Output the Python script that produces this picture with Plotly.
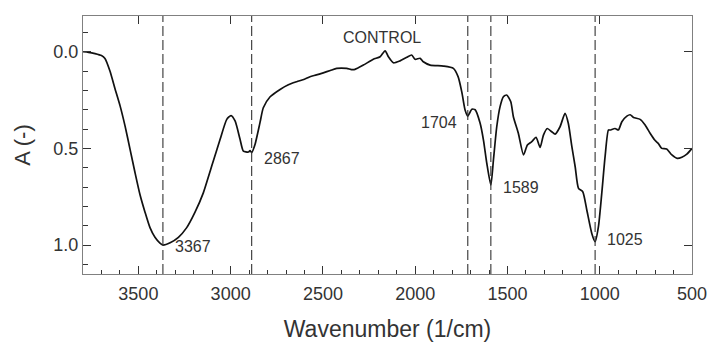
import plotly.graph_objects as go

# Spectrum (wavenumber in 1/cm, absorbance A)
wavenumber = [3800, 3770, 3735, 3700, 3681, 3654, 3627, 3599, 3572, 3545, 3518, 3491, 3464, 3437,
              3410, 3383, 3367, 3328, 3283, 3238, 3193, 3148, 3102, 3057, 3021, 2998, 2976, 2949,
              2931, 2904, 2895, 2886, 2868, 2841, 2823, 2786, 2732, 2690, 2642, 2600, 2570, 2535,
              2498, 2460, 2425, 2371, 2345, 2326, 2281, 2227, 2190, 2163, 2145, 2118, 2082, 2046,
              2019, 2001, 1973, 1956, 1919, 1847, 1793, 1767, 1747, 1730, 1715, 1693, 1675, 1648,
              1630, 1612, 1590, 1576, 1558, 1540, 1522, 1504, 1482, 1468, 1441, 1413, 1392, 1368,
              1345, 1323, 1305, 1284, 1260, 1242, 1215, 1188, 1170, 1151, 1133, 1115, 1092, 1070,
              1043, 1025, 1007, 989, 971, 953, 944, 917, 899, 880, 853, 835, 817, 781, 754, 727,
              702, 683, 664, 637, 609, 580, 555, 528, 500]
absorbance = [0.000, 0.003, 0.010, 0.020, 0.035, 0.100, 0.190, 0.280, 0.385, 0.505, 0.626, 0.740,
              0.830, 0.910, 0.960, 0.990, 1.000, 0.988, 0.960, 0.910, 0.830, 0.730, 0.590, 0.453,
              0.350, 0.330, 0.358, 0.453, 0.514, 0.519, 0.512, 0.522, 0.480, 0.367, 0.290, 0.233,
              0.195, 0.172, 0.155, 0.142, 0.129, 0.120, 0.109, 0.097, 0.086, 0.086, 0.092, 0.091,
              0.069, 0.039, 0.026, -0.005, 0.026, 0.057, 0.047, 0.029, 0.017, 0.039, 0.034, 0.052,
              0.069, 0.074, 0.086, 0.130, 0.210, 0.300, 0.333, 0.298, 0.300, 0.370, 0.457, 0.577,
              0.690, 0.560, 0.388, 0.284, 0.233, 0.224, 0.259, 0.336, 0.422, 0.534, 0.483, 0.465,
              0.443, 0.495, 0.431, 0.397, 0.414, 0.426, 0.388, 0.319, 0.371, 0.491, 0.595, 0.707,
              0.724, 0.819, 0.940, 0.983, 0.905, 0.733, 0.543, 0.405, 0.405, 0.397, 0.405, 0.362,
              0.333, 0.326, 0.340, 0.350, 0.379, 0.422, 0.457, 0.474, 0.500, 0.503, 0.534, 0.552,
              0.546, 0.530, 0.500]

# Peak markers
peak_positions = [3367, 2886, 1715, 1590, 1025]
peak_labels = ["3367", "2867", "1704", "1589", "1025"]
peak_label_y = [1.01, 0.55, 0.367, 0.70, 0.97]
peak_label_side = ["right", "right", "left", "right", "right"]

sample_name = "CONTROL"
x_major_ticks = [3500, 3000, 2500, 2000, 1500, 1000, 500]
y_major_ticks = [0.0, 0.5, 1.0]
y_minor_ticks = [-0.1, 0.1, 0.2, 0.3, 0.4, 0.6, 0.7, 0.8, 0.9, 1.1]

x_range = [3800, 500]
y_range = [1.15, -0.185]

FONT = "Liberation Sans, Arial, sans-serif"
TXT = "#333333"
AXC = "#808080"

fig = go.Figure()
fig.add_trace(go.Scatter(x=wavenumber, y=absorbance, mode="lines",
                         line=dict(color="#111111", width=1.7, shape="spline", smoothing=0.6),
                         showlegend=False, hoverinfo="x+y"))
# dummy trace to show top/right mirror axes
fig.add_trace(go.Scatter(x=[None], y=[None], xaxis="x2", yaxis="y2", showlegend=False,
                         hoverinfo="skip"))

for pos in peak_positions:
    fig.add_shape(type="line", xref="x", yref="paper", x0=pos, x1=pos, y0=0, y1=1,
                  line=dict(color="#333333", width=1.1, dash="10px,4px"))

for pos, lab, ly, side in zip(peak_positions, peak_labels, peak_label_y, peak_label_side):
    fig.add_annotation(x=pos, y=ly, xref="x", yref="y", text=lab, showarrow=False,
                       xanchor="left" if side == "right" else "right",
                       xshift=10 if side == "right" else -9, yanchor="middle",
                       font=dict(family=FONT, size=16, color=TXT))

fig.add_annotation(x=2181, y=-0.075, xref="x", yref="y", text=sample_name, showarrow=False,
                   xanchor="center", yanchor="middle", font=dict(family=FONT, size=16, color=TXT))

fig.update_layout(
    width=710, height=345,
    margin=dict(l=83, r=18, t=16, b=71),
    paper_bgcolor="white", plot_bgcolor="white",
    font=dict(family=FONT, color=TXT),
    xaxis=dict(range=x_range, tickvals=x_major_ticks, ticks="inside", ticklen=8, tickwidth=1.3,
               tickcolor="#333333", showline=True, linecolor=AXC, linewidth=1.3, mirror=True,
               showgrid=False, zeroline=False, automargin=False, ticklabelstandoff=3,
               tickfont=dict(size=18, family=FONT, color=TXT),
               minor=dict(dtick=100, ticks="inside", ticklen=4, tickwidth=1.2,
                          tickcolor="#333333", showgrid=False),
               title=dict(text="Wavenumber (1/cm)", font=dict(size=23, family=FONT, color=TXT),
                          standoff=18)),
    yaxis=dict(range=y_range, tickmode="array", tickvals=y_major_ticks, tickformat=".1f",
               ticks="inside", ticklen=8, tickwidth=1.3, tickcolor="#333333", showline=True,
               linecolor=AXC, linewidth=1.3, mirror=True, showgrid=False, zeroline=False,
               automargin=False, tickfont=dict(size=18, family=FONT, color=TXT),
               minor=dict(tickmode="array", tickvals=y_minor_ticks, ticks="inside", ticklen=5,
                          tickwidth=1.3, tickcolor="#333333", showgrid=False),
               title=dict(text="A (-)", font=dict(size=22, family=FONT, color=TXT), standoff=16)),
    xaxis2=dict(range=x_range, overlaying="x", side="top", tickvals=x_major_ticks,
                ticks="inside", ticklen=8, tickwidth=1.3, tickcolor="#333333", automargin=False,
                showticklabels=False, showgrid=False, zeroline=False, showline=False),
    yaxis2=dict(range=y_range, overlaying="y", side="right", tickvals=y_major_ticks,
                ticks="inside", ticklen=8, tickwidth=1.3, tickcolor="#333333", automargin=False,
                showticklabels=False, showgrid=False, zeroline=False, showline=False),
)

fig.write_html("out.html")
